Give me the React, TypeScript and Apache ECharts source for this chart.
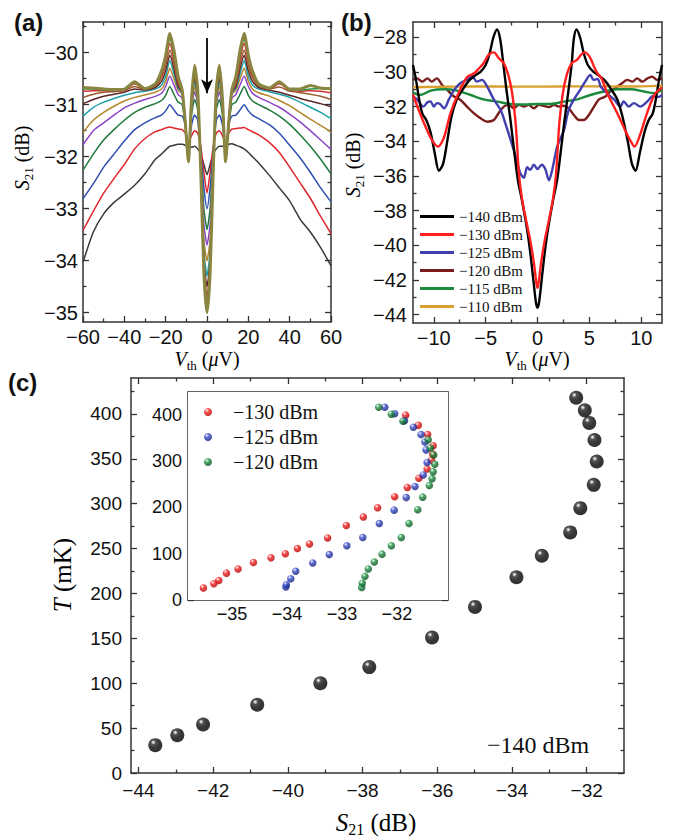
import React, { useEffect, useRef } from 'react';
import * as echarts from 'echarts';

const SANS = 'Liberation Sans, Arial, sans-serif';
const SERIF = 'Liberation Serif, Times New Roman, serif';
const AX = '#333';

// ---------- Panel (a): S21 vs Vth, power series ----------
const vthA = [-60, -55, -50, -45, -40, -35, -30, -25, -22, -20, -18, -16, -14, -12, -10.5, -9, -7.5, -6, -4.5, -3, -1.5, 0, 1.5, 3, 4.5, 6, 7.5, 9, 10.5, 12, 14, 16, 18, 20, 22, 25, 30, 35, 40, 45, 50, 55, 60];
const a1 = [-34.03, -33.45, -33.1, -32.88, -32.72, -32.55, -32.33, -32.05, -31.95, -31.87, -31.8, -31.78, -31.76, -31.76, -31.78, -31.82, -31.82, -31.8, -31.85, -31.95, -32.15, -32.35, -32.15, -31.95, -31.85, -31.8, -31.8, -31.8, -31.76, -31.75, -31.78, -31.81, -31.85, -31.92, -32.0, -32.12, -32.35, -32.6, -32.85, -33.2, -33.45, -33.75, -34.1];
const a2 = [-33.42, -33.05, -32.7, -32.42, -32.15, -31.85, -31.65, -31.52, -31.48, -31.45, -31.43, -31.45, -31.47, -31.48, -31.55, -31.7, -31.6, -31.5, -31.55, -31.8, -32.3, -32.7, -32.3, -31.8, -31.55, -31.5, -31.6, -31.72, -31.55, -31.47, -31.46, -31.45, -31.44, -31.48, -31.52, -31.58, -31.72, -31.92, -32.2, -32.5, -32.8, -33.15, -33.48];
const a3 = [-32.81, -32.52, -32.2, -31.95, -31.7, -31.48, -31.35, -31.25, -31.2, -31.12, -31.0, -31.1, -31.2, -31.22, -31.4, -31.85, -31.4, -31.2, -31.3, -31.9, -32.6, -33.0, -32.6, -31.9, -31.3, -31.2, -31.4, -31.88, -31.4, -31.22, -31.2, -31.1, -31.0, -31.12, -31.2, -31.27, -31.38, -31.55, -31.78, -32.02, -32.3, -32.6, -32.87];
const a4 = [-32.26, -31.95, -31.68, -31.48, -31.3, -31.15, -31.05, -30.98, -30.92, -30.82, -30.65, -30.8, -30.95, -31.0, -31.4, -32.0, -31.2, -30.9, -31.1, -32.0, -33.0, -33.4, -33.0, -32.0, -31.1, -30.9, -31.2, -32.0, -31.4, -31.0, -30.95, -30.8, -30.65, -30.82, -30.93, -31.0, -31.1, -31.22, -31.38, -31.58, -31.8, -32.05, -32.33];
const a5 = [-31.77, -31.5, -31.35, -31.2, -31.06, -30.97, -30.9, -30.84, -30.78, -30.65, -30.45, -30.62, -30.8, -30.88, -31.35, -32.05, -31.1, -30.75, -31.0, -32.1, -33.3, -33.7, -33.3, -32.1, -31.0, -30.75, -31.1, -32.05, -31.35, -30.88, -30.8, -30.62, -30.45, -30.65, -30.78, -30.86, -30.95, -31.05, -31.18, -31.33, -31.5, -31.68, -31.86];
const a6 = [-31.53, -31.3, -31.15, -31.03, -30.93, -30.86, -30.81, -30.76, -30.7, -30.55, -30.3, -30.5, -30.72, -30.8, -31.3, -32.05, -31.05, -30.65, -30.95, -32.2, -33.6, -34.0, -33.6, -32.2, -30.95, -30.65, -31.05, -32.05, -31.3, -30.8, -30.72, -30.5, -30.3, -30.55, -30.7, -30.77, -30.83, -30.92, -31.02, -31.15, -31.28, -31.4, -31.53];
const a7 = [-31.22, -31.05, -30.95, -30.88, -30.82, -30.77, -30.74, -30.7, -30.62, -30.45, -30.15, -30.4, -30.68, -30.78, -31.3, -32.08, -31.0, -30.55, -30.9, -32.2, -33.8, -34.3, -33.8, -32.2, -30.9, -30.55, -31.0, -32.08, -31.3, -30.78, -30.68, -30.4, -30.15, -30.45, -30.62, -30.7, -30.75, -30.8, -30.86, -30.95, -31.05, -31.15, -31.27];
const a8 = [-30.98, -30.9, -30.84, -30.8, -30.76, -30.7, -30.72, -30.67, -30.55, -30.35, -30.05, -30.3, -30.65, -30.76, -31.3, -32.1, -30.98, -30.48, -30.85, -32.25, -34.0, -34.5, -34.0, -32.25, -30.85, -30.48, -30.98, -32.1, -31.3, -30.76, -30.65, -30.3, -30.05, -30.35, -30.55, -30.67, -30.72, -30.76, -30.82, -30.88, -30.93, -30.98, -31.04];
const a9 = [-30.86, -30.8, -30.76, -30.75, -30.73, -30.65, -30.71, -30.64, -30.48, -30.25, -29.95, -30.22, -30.6, -30.75, -31.3, -32.1, -30.95, -30.42, -30.8, -32.25, -34.1, -34.7, -34.1, -32.25, -30.8, -30.42, -30.95, -32.1, -31.3, -30.75, -30.6, -30.22, -29.95, -30.25, -30.48, -30.64, -30.7, -30.66, -30.74, -30.77, -30.8, -30.84, -30.9];
const a10 = [-30.74, -30.73, -30.73, -30.74, -30.72, -30.6, -30.7, -30.62, -30.42, -30.15, -29.82, -30.12, -30.55, -30.74, -31.32, -32.1, -30.93, -30.35, -30.75, -32.28, -34.15, -34.85, -34.15, -32.28, -30.75, -30.35, -30.93, -32.1, -31.32, -30.74, -30.55, -30.12, -29.82, -30.15, -30.42, -30.62, -30.7, -30.6, -30.72, -30.74, -30.73, -30.74, -30.77];
const a11 = [-30.7, -30.7, -30.72, -30.73, -30.71, -30.58, -30.7, -30.61, -30.38, -30.1, -29.72, -30.05, -30.5, -30.73, -31.35, -32.1, -30.92, -30.3, -30.72, -32.3, -34.2, -34.95, -34.2, -32.3, -30.72, -30.3, -30.92, -32.1, -31.35, -30.73, -30.5, -30.05, -29.72, -30.1, -30.38, -30.61, -30.69, -30.57, -30.71, -30.72, -30.7, -30.69, -30.71];
const a12 = [-30.67, -30.68, -30.7, -30.71, -30.7, -30.56, -30.69, -30.6, -30.35, -30.05, -29.63, -29.95, -30.45, -30.72, -31.35, -32.1, -30.9, -30.24, -30.7, -32.3, -34.25, -35.0, -34.25, -32.3, -30.7, -30.24, -30.9, -32.1, -31.35, -30.72, -30.45, -29.95, -29.63, -30.05, -30.35, -30.6, -30.68, -30.56, -30.7, -30.7, -30.63, -30.68, -30.69];
const curvesA = [a1, a2, a3, a4, a5, a6, a7, a8, a9, a10, a11, a12];
const colorsA = ['#3a3a3a', '#e0262b', '#2d4fb0', '#1f7a3c', '#8d44c8', '#b3862c', '#1fa0a8', '#5c2626', '#9c5a2c', '#d33030', '#2f8f45', '#8a8540'];

// ---------- Panel (b) ----------
const bNames = ['\u2212140 dBm', '\u2212130 dBm', '\u2212125 dBm', '\u2212120 dBm', '\u2212115 dBm', '\u2212110 dBm'];
const bColors = ['#000000', '#ff1f1f', '#4040b0', '#7a1c1c', '#1c8a3c', '#d9a030'];
const b140 = [[-12, -29.6], [-11.7, -30.5], [-11.4, -31.6], [-11.1, -32.4], [-10.7, -32.8], [-10.3, -33.5], [-9.9, -34.7], [-9.5, -35.7], [-9.1, -35.3], [-8.7, -34.0], [-8.3, -32.6], [-7.8, -31.6], [-7.2, -31.0], [-6.6, -30.5], [-6.0, -30.2], [-5.5, -30.0], [-5.0, -29.6], [-4.6, -28.9], [-4.25, -28.0], [-3.9, -27.55], [-3.6, -28.1], [-3.3, -29.5], [-3.0, -31.0], [-2.6, -32.8], [-2.2, -34.8], [-1.9, -36.2], [-1.5, -37.4], [-1.0, -39.1], [-0.7, -40.4], [-0.4, -42.0], [-0.15, -43.3], [0, -43.6], [0.15, -43.3], [0.4, -42.0], [0.7, -40.4], [1.0, -39.1], [1.5, -37.4], [1.9, -36.2], [2.2, -34.8], [2.6, -32.8], [3.0, -31.0], [3.3, -29.5], [3.5, -28.1], [3.75, -27.55], [4.1, -28.0], [4.45, -28.9], [4.85, -29.6], [5.4, -30.0], [5.9, -30.2], [6.5, -30.5], [7.1, -31.0], [7.7, -31.6], [8.2, -32.6], [8.7, -34.0], [9.1, -35.3], [9.45, -35.7], [9.85, -34.7], [10.3, -33.5], [10.7, -32.8], [11.1, -32.4], [11.4, -31.6], [11.7, -30.5], [12, -29.6]];
const b130 = [[-12, -31.3], [-11.45, -32.2], [-10.8, -33.15], [-10.2, -33.9], [-9.6, -34.3], [-9.0, -33.75], [-8.4, -32.4], [-7.6, -31.2], [-6.8, -30.3], [-6.1, -30.08], [-5.65, -29.8], [-5.2, -29.5], [-4.7, -29.0], [-4.2, -28.87], [-3.75, -29.2], [-3.25, -29.5], [-2.85, -30.1], [-2.45, -31.2], [-2.1, -33.0], [-1.8, -35.8], [-1.5, -37.3], [-1.05, -38.7], [-0.7, -39.7], [-0.35, -41.0], [-0.1, -42.2], [0, -42.45], [0.1, -42.2], [0.35, -41.0], [0.7, -39.7], [1.05, -38.7], [1.5, -37.3], [1.8, -35.8], [2.1, -33.0], [2.45, -31.2], [2.85, -30.1], [3.3, -29.5], [3.8, -29.3], [4.3, -28.95], [4.6, -28.87], [5.1, -29.2], [5.45, -29.7], [5.8, -30.1], [6.2, -30.4], [6.7, -31.2], [7.7, -32.4], [8.4, -33.3], [8.9, -33.9], [9.35, -34.3], [9.9, -33.6], [10.6, -32.3], [11.3, -31.3], [12, -30.9]];
const b125 = [[-12, -31.42], [-11.6, -31.6], [-11.0, -32.0], [-10.6, -31.75], [-10.3, -31.7], [-10.0, -32.0], [-9.7, -31.8], [-9.4, -31.85], [-9.0, -32.1], [-8.55, -31.6], [-8.05, -31.05], [-7.45, -30.65], [-6.8, -30.45], [-6.3, -30.23], [-5.85, -30.56], [-5.35, -30.46], [-4.85, -30.85], [-4.2, -31.6], [-3.55, -32.2], [-3.1, -32.96], [-2.6, -33.9], [-2.1, -34.9], [-1.65, -35.85], [-1.3, -36.1], [-1.0, -35.5], [-0.7, -35.65], [-0.35, -35.35], [0, -35.6], [0.4, -35.35], [0.75, -35.6], [1.1, -36.25], [1.4, -35.7], [1.9, -34.3], [2.55, -33.35], [3.0, -32.2], [3.5, -31.6], [4.15, -31.0], [4.6, -30.56], [5.1, -30.17], [5.4, -30.46], [5.8, -30.4], [6.1, -30.85], [6.7, -31.23], [7.4, -31.6], [8.0, -32.0], [8.3, -31.7], [8.8, -32.0], [9.3, -31.8], [9.9, -32.0], [10.6, -31.7], [11.1, -31.4], [11.6, -31.45], [12, -31.33]];
const b120 = [[-12, -30.46], [-11.6, -30.37], [-11.1, -30.56], [-10.6, -30.37], [-10.2, -30.56], [-9.7, -30.37], [-9.2, -30.75], [-8.7, -31.04], [-8.05, -31.42], [-7.45, -31.6], [-6.8, -32.0], [-6.15, -32.38], [-5.5, -32.67], [-4.85, -32.87], [-4.2, -32.77], [-3.75, -32.38], [-3.25, -32.0], [-2.75, -31.9], [-2.3, -32.1], [-1.8, -31.9], [-1.3, -32.0], [-0.85, -31.9], [-0.35, -32.1], [0.15, -31.9], [0.6, -31.96], [1.1, -32.03], [1.6, -31.9], [2.05, -32.0], [2.5, -31.95], [3.0, -32.1], [3.5, -32.48], [4.0, -32.77], [4.45, -32.77], [4.95, -32.48], [5.45, -32.0], [5.9, -31.6], [6.55, -31.42], [7.0, -31.13], [7.7, -30.85], [8.15, -30.65], [8.65, -30.46], [9.15, -30.56], [9.6, -30.37], [10.1, -30.56], [10.6, -30.37], [11.05, -30.27], [11.55, -30.46], [12, -30.37]];
const b115 = [[-12, -31.19], [-11.3, -31.33], [-10.3, -31.08], [-9.0, -31.0], [-7.75, -31.08], [-6.45, -31.33], [-5.2, -31.58], [-3.9, -31.71], [-2.6, -31.85], [-1.3, -31.88], [0, -31.85], [1.25, -31.85], [2.55, -31.71], [3.85, -31.58], [5.1, -31.33], [6.4, -31.13], [7.7, -31.0], [9.0, -31.0], [10.25, -31.13], [11.2, -31.23], [12, -31.04]];
const b110 = [[-12, -30.88], [-10, -30.86], [-8, -30.85], [-6, -30.84], [-4, -30.84], [-2, -30.85], [0, -30.85], [2, -30.84], [4, -30.83], [6, -30.83], [8, -30.84], [10, -30.83], [12, -30.8]];
const curvesB = [b140, b130, b125, b120, b115, b110];

// ---------- Panel (c) ----------
const s21Main = [-43.55, -42.96, -42.27, -40.82, -39.13, -37.82, -36.14, -34.99, -33.88, -33.2, -32.44, -32.17, -31.81, -31.73, -31.79, -31.93, -32.05, -32.28];
const tMain = [31, 42, 54, 76, 100, 118, 151, 185, 218, 242, 268, 295, 321, 347, 371, 390, 404, 418];
const s21Red = [-35.52, -35.33, -35.24, -35.1, -34.89, -34.61, -34.29, -34.03, -33.81, -33.59, -33.26, -32.92, -32.61, -32.35, -32.04, -31.81, -31.6, -31.45, -31.37, -31.35, -31.34, -31.44, -31.61, -31.84];
const tRed = [26, 35, 42, 58, 67, 81, 91, 100, 111, 121, 134, 161, 179, 199, 223, 243, 263, 283, 302, 315, 333, 357, 377, 399];
const s21Blue = [-34.02, -34.01, -33.93, -33.84, -33.53, -33.23, -32.91, -32.62, -32.32, -32.05, -31.83, -31.67, -31.52, -31.45, -31.47, -31.49, -31.56, -31.7, -31.86, -32.04, -32.22];
const tBlue = [28, 33, 46, 62, 80, 98, 117, 135, 165, 194, 221, 245, 270, 297, 324, 341, 357, 373, 387, 402, 416];
const s21Green = [-32.64, -32.63, -32.58, -32.52, -32.41, -32.27, -32.1, -31.92, -31.78, -31.62, -31.53, -31.41, -31.36, -31.34, -31.31, -31.33, -31.39, -31.43, -31.89, -32.1, -32.33];
const tGreen = [27, 36, 51, 67, 82, 99, 117, 135, 165, 195, 222, 247, 262, 277, 293, 313, 328, 346, 386, 401, 416];
const insetNames = ['\u2212130\u00a0dBm', '\u2212125\u00a0dBm', '\u2212120\u00a0dBm'];

const fmt = (v: number) => (v < 0 ? '\u2212' + String(Math.abs(v)) : String(v));

function makeAxes(grid: number, dim: 'x' | 'y', min: number, max: number, majors: number[], minors: number[], labSize: number, margin: number) {
  const main = dim === 'x' ? 'bottom' : 'left';
  const opp = dim === 'x' ? 'top' : 'right';
  const line = { show: true, onZero: false, lineStyle: { color: AX, width: 1.5 } };
  const common = { type: 'value', gridIndex: grid, min, max, splitLine: { show: false } };
  const tick = (vals: number[], len: number) => ({ show: true, inside: true, length: len, customValues: vals, lineStyle: { color: AX, width: 1.3 } });
  return [
    { ...common, position: main, axisLine: line, axisTick: tick(majors, 6), axisLabel: { show: true, customValues: majors, formatter: fmt, margin, fontSize: labSize, fontFamily: SANS, color: '#111' } },
    { ...common, position: main, axisLine: { show: false, onZero: false }, axisTick: tick(minors, 3.5), axisLabel: { show: false } },
    { ...common, position: opp, axisLine: line, axisTick: tick(majors, 6), axisLabel: { show: false } },
    { ...common, position: opp, axisLine: { show: false, onZero: false }, axisTick: tick(minors, 3.5), axisLabel: { show: false } },
  ];
}

const ball = (stops: [number, string][]) => ({
  type: 'radial', x: 0.36, y: 0.3, r: 0.72,
  colorStops: stops.map(([offset, color]) => ({ offset, color })),
});

function richTitle(size: number, parts: 'S' | 'V') {
  const main = { fontFamily: SERIF, fontSize: size, lineHeight: size, color: '#111', verticalAlign: 'middle' };
  const sub = { fontFamily: SERIF, fontSize: Math.round(size * 0.65), lineHeight: Math.round(size * 0.65), color: '#111', verticalAlign: 'bottom', padding: [0, 0, -3, 0] };
  const text = parts === 'S' ? '{i|S}{s|21}{n| (dB)}' : '{i|V}{s|th}{n| (}{i|\u03bc}{n|V)}';
  return { text, rich: { i: { ...main, fontStyle: 'italic' }, n: main, s: sub } };
}

export default function App() {
  const ref = useRef<HTMLDivElement>(null);
  useEffect(() => {
    if (!ref.current) return;
    const chart = echarts.init(ref.current, null, { renderer: 'svg' });
    const xAxis: any[] = [
      ...makeAxes(0, 'x', -60, 60, [-60, -40, -20, 0, 20, 40, 60], [-50, -30, -10, 10, 30, 50], 20, 5),
      ...makeAxes(1, 'x', -12, 12, [-10, -5, 0, 5, 10], [-7.5, -2.5, 2.5, 7.5], 20, 5),
      ...makeAxes(2, 'x', -44.2, -31, [-44, -42, -40, -38, -36, -34, -32], [-43, -41, -39, -37, -35, -33], 19, 8),
      ...makeAxes(3, 'x', -35.8, -31.07, [-35, -34, -33, -32], [-35.5, -34.5, -33.5, -32.5, -31.5], 18, 5),
    ];
    const yAxis: any[] = [
      ...makeAxes(0, 'y', -35.18, -29.41, [-35, -34, -33, -32, -31, -30], [-34.5, -33.5, -32.5, -31.5, -30.5, -29.5], 20, 5),
      ...makeAxes(1, 'y', -44.48, -27.12, [-44, -42, -40, -38, -36, -34, -32, -30, -28], [-43, -41, -39, -37, -35, -33, -31, -29], 20, 6),
      ...makeAxes(2, 'y', 0, 440, [0, 50, 100, 150, 200, 250, 300, 350, 400], [25, 75, 125, 175, 225, 275, 325, 375, 425], 19, 9),
      ...makeAxes(3, 'y', 0, 449, [0, 100, 200, 300, 400], [50, 150, 250, 350], 18, 6),
    ];

    const series: any[] = [];
    curvesA.forEach((c, k) => {
      series.push({
        type: 'line', xAxisIndex: 0, yAxisIndex: 0, symbol: 'none', smooth: 0.2,
        lineStyle: { color: colorsA[k], width: k === curvesA.length - 1 ? 3 : 1.5 },
        data: vthA.map((x, i) => [x, c[i]]),
        markLine: k === curvesA.length - 1 ? {
          silent: true, symbol: ['none', 'arrow'], symbolSize: [9, 14],
          lineStyle: { color: '#000', width: 1.8, type: 'solid' }, label: { show: false },
          data: [[{ coord: [0, -29.72] }, { coord: [0, -30.78] }]],
        } : undefined,
        z: 3 + k,
      });
    });
    const bOrder = [3, 4, 5, 2, 0, 1];
    bOrder.forEach((k) => {
      series.push({
        name: bNames[k], type: 'line', xAxisIndex: 4, yAxisIndex: 4, symbol: 'none', smooth: 0.3,
        lineStyle: { color: bColors[k], width: 2.4 }, itemStyle: { color: bColors[k] },
        data: curvesB[k], z: 3,
      });
    });
    series.push({
      type: 'scatter', xAxisIndex: 8, yAxisIndex: 8, symbolSize: 14,
      itemStyle: { color: ball([[0, '#ffffff'], [0.08, '#c8c8c8'], [0.24, '#262626'], [0.6, '#050505'], [1, '#000000']]) },
      data: s21Main.map((s, i) => [s, tMain[i]]), z: 4,
    });
    const insetSets = [
      { s: s21Red, t: tRed, c: ball([[0, '#ffffff'], [0.15, '#ffa0a0'], [0.4, '#f21c1c'], [1, '#b00000']]) },
      { s: s21Blue, t: tBlue, c: ball([[0, '#ffffff'], [0.15, '#a0a8ee'], [0.4, '#3345c4'], [1, '#15207a']]) },
      { s: s21Green, t: tGreen, c: ball([[0, '#ffffff'], [0.15, '#90d4a4'], [0.4, '#1b8c40'], [1, '#0a4d1e']]) },
    ];
    insetSets.forEach((d, k) => {
      series.push({
        name: insetNames[k], type: 'scatter', xAxisIndex: 12, yAxisIndex: 12, symbolSize: 7.5,
        itemStyle: { color: d.c }, data: d.s.map((s, i) => [s, d.t[i]]), z: 10,
      });
    });

    const option: any = {
      animation: false,
      backgroundColor: '#ffffff',
      grid: [
        { left: 83, top: 22, width: 248, height: 300 },
        { left: 413, top: 22, width: 249, height: 301 },
        { left: 131, top: 378, width: 493, height: 395 },
        { left: 188, top: 392, width: 260, height: 208, show: true, backgroundColor: '#ffffff', borderWidth: 0, z: 6 },
      ],
      xAxis, yAxis, series,
      legend: [
        {
          data: bNames, orient: 'vertical', left: 420, top: 209, padding: 0, icon: 'rect',
          itemWidth: 34, itemHeight: 3, itemGap: 3, selectedMode: false,
          textStyle: { fontFamily: SERIF, fontSize: 15, lineHeight: 15, color: '#111' },
        },
        {
          data: insetNames, orient: 'vertical', left: 204, top: 402, padding: 0,
          itemWidth: 8, itemHeight: 8, itemGap: 5, selectedMode: false, z: 12,
          textStyle: { fontFamily: SERIF, fontSize: 20, lineHeight: 20, color: '#111', padding: [0, 0, 0, 16] },
        },
      ],
      graphic: [
        { type: 'text', left: 14, top: 10, style: { text: '(a)', font: 'bold 24px ' + SANS, fill: '#111' } },
        { type: 'text', left: 341, top: 10, style: { text: '(b)', font: 'bold 24px ' + SANS, fill: '#111' } },
        { type: 'text', left: 8, top: 370, style: { text: '(c)', font: 'bold 24px ' + SANS, fill: '#111' } },
        { type: 'text', x: 22, y: 158, rotation: Math.PI / 2, style: { ...richTitle(20, 'S'), align: 'center', verticalAlign: 'middle' } },
        { type: 'text', x: 353, y: 165, rotation: Math.PI / 2, style: { ...richTitle(20, 'S'), align: 'center', verticalAlign: 'middle' } },
        { type: 'text', x: 207, y: 359, style: { ...richTitle(20, 'V'), align: 'center', verticalAlign: 'middle' } },
        { type: 'text', x: 537, y: 359, style: { ...richTitle(20, 'V'), align: 'center', verticalAlign: 'middle' } },
        { type: 'text', x: 62, y: 575, rotation: Math.PI / 2, style: { text: '{i|T}{n| (mK)}', rich: { i: { fontFamily: SERIF, fontSize: 25, fontStyle: 'italic', color: '#111' }, n: { fontFamily: SERIF, fontSize: 25, color: '#111' } }, align: 'center', verticalAlign: 'middle' } },
        { type: 'text', x: 376, y: 822, style: { ...richTitle(25, 'S'), align: 'center', verticalAlign: 'middle' } },
        { type: 'text', x: 487, y: 745, style: { text: '\u2212140 dBm', font: '24px ' + SERIF, fill: '#111', verticalAlign: 'middle' } },
      ],
    };
    chart.setOption(option);
    return () => chart.dispose();
  }, []);
  return <div ref={ref} style={{ position: 'absolute', left: 0, top: 0, width: 677, height: 840, background: '#fff' }} />;
}
